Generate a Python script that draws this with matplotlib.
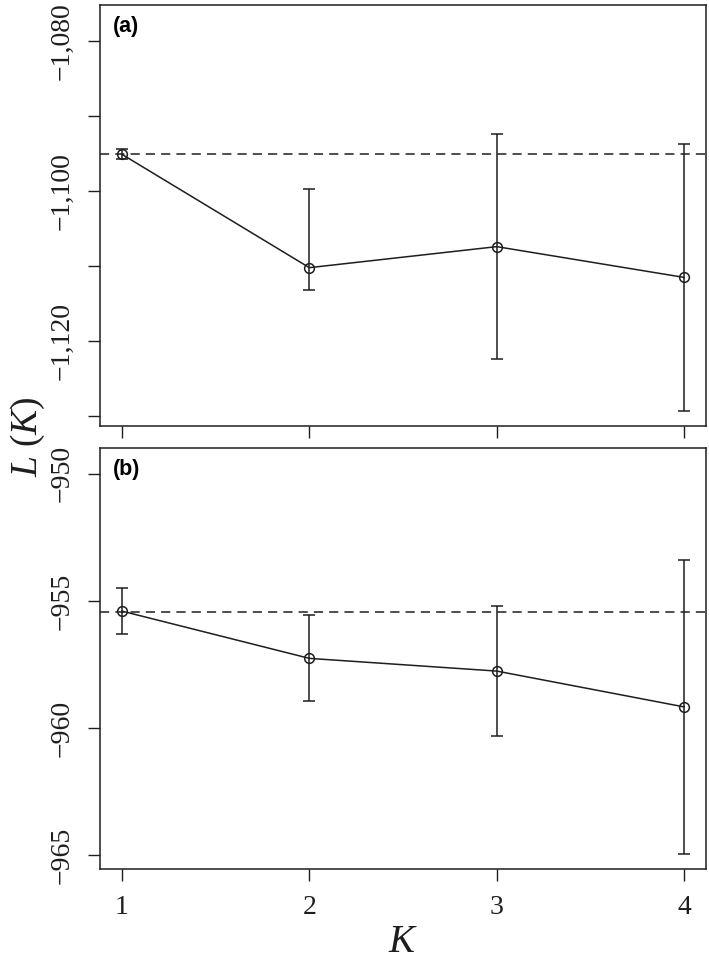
import matplotlib
matplotlib.use("Agg")
import matplotlib.pyplot as plt

plt.rcParams["font.family"] = "Liberation Serif"
plt.rcParams["mathtext.fontset"] = "custom"
plt.rcParams["mathtext.rm"] = "Liberation Serif"
plt.rcParams["mathtext.it"] = "Liberation Serif:italic"

# ======= data =======
K = [1, 2, 3, 4]

# (a)
mean_a = [-1095.1, -1110.2, -1107.4, -1111.5]
upper_a = [-1094.4, -1099.7, -1092.4, -1093.7]
lower_a = [-1095.7, -1113.2, -1122.4, -1129.3]
ref_a = -1095.0
yticks_a = [-1130, -1120, -1110, -1100, -1090, -1080]
ylim_a = (-1131.3, -1075.2)

# (b)
mean_b = [-955.4, -957.26, -957.76, -959.17]
upper_b = [-954.5, -955.54, -955.21, -953.37]
lower_b = [-956.3, -958.94, -960.31, -964.96]
ref_b = -955.42
yticks_b = [-965, -960, -955, -950]
ylim_b = (-965.55, -948.98)

col = "#1e1e1e"

fig = plt.figure(figsize=(7.09, 9.67), dpi=100)
ax_a = fig.add_axes([0.1410, 0.55946, 0.8548, 0.43537])
ax_b = fig.add_axes([0.1410, 0.10134, 0.8548, 0.43537])


def fmt(v):
    return f"{v:,.0f}".replace("-", "\u2212")


def draw(ax, mean, lo, hi, ref, yticks, ylim, label, skip):
    err = [[m - l for m, l in zip(mean, lo)], [h - m for m, h in zip(mean, hi)]]
    ax.axhline(ref, color=col, lw=1.1, ls=(0, (6, 4)))
    ax.errorbar(K, mean, yerr=err, color=col, lw=1.1, capsize=4.5,
                capthick=1.1, marker="o", ms=7, mfc="none", mec=col, mew=1.1)
    ax.set_xlim(0.8825, 4.117)
    ax.set_ylim(*ylim)
    ax.set_xticks(K)
    ax.set_yticks(yticks)
    # R drops every other label on the top panel
    if skip:
        labs = [fmt(v) if (v // 10) % 2 == 0 else "" for v in yticks]
    else:
        labs = [fmt(v) for v in yticks]
    ax.set_yticklabels(labs)
    for t in ax.get_yticklabels():
        t.set_rotation(90)
        t.set_verticalalignment("center")
    ax.tick_params(direction="out", length=8.5, width=1, colors=col,
                   labelsize=20, pad=10)
    for s in ax.spines.values():
        s.set_linewidth(1.1)
        s.set_color(col)
    ax.text(0.022, 0.975, label, transform=ax.transAxes, ha="left", va="top",
            fontsize=15.5, fontweight="bold", family="Liberation Sans", color="black")


draw(ax_a, mean_a, lower_a, upper_a, ref_a, yticks_a, ylim_a, "(a)", True)
draw(ax_b, mean_b, lower_b, upper_b, ref_b, yticks_b, ylim_b, "(b)", False)
ax_a.set_xticklabels([])

fig.text(28 / 709, 1 - 437 / 967, r"$L\ (K)$", rotation=90, ha="center",
         va="center", fontsize=27, color=col)
fig.text(403 / 709, 1 - 943 / 967, r"$K$", ha="center", va="center",
         fontsize=28, color=col)

fig.savefig("out.png", dpi=100)
